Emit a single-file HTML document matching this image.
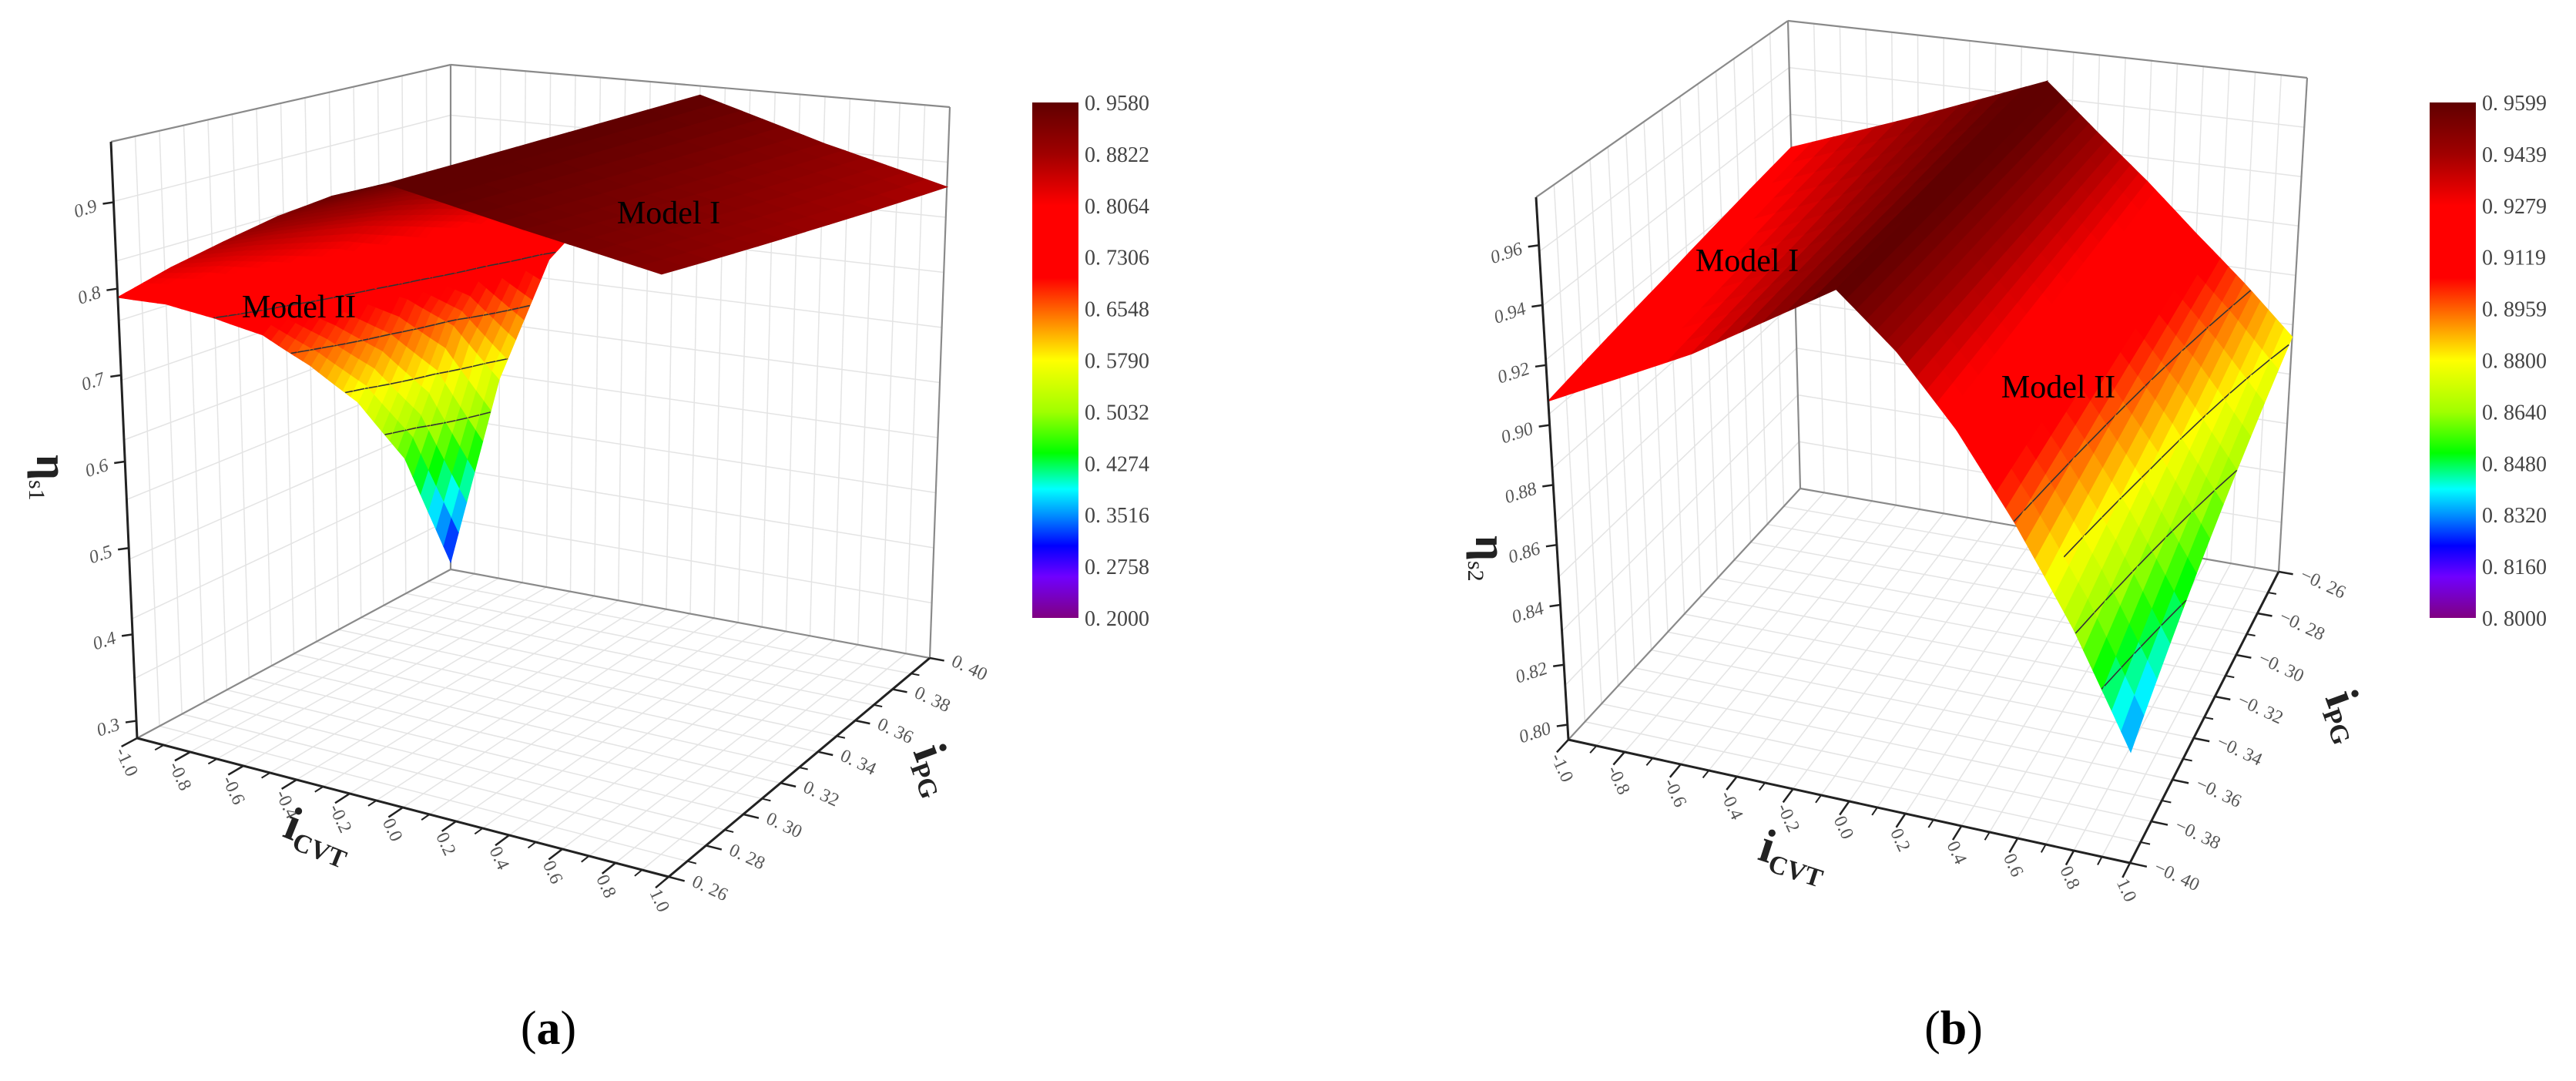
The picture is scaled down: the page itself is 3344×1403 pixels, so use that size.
<!DOCTYPE html>
<html><head><meta charset="utf-8"><style>
html,body{margin:0;padding:0;background:#fff;}
svg{display:block;font-family:"Liberation Serif",serif;}
</style></head><body>
<svg id="fig" width="3344" height="1403" viewBox="0 0 3344 1403" xmlns="http://www.w3.org/2000/svg">
<defs>
<linearGradient id="cmap" x1="0" y1="1" x2="0" y2="0">
<stop offset="0" stop-color="#800080"/><stop offset="0.08" stop-color="#7000ff"/><stop offset="0.14" stop-color="#0000ff"/><stop offset="0.2" stop-color="#0090ff"/><stop offset="0.25" stop-color="#00ffff"/><stop offset="0.32" stop-color="#00ff00"/><stop offset="0.4" stop-color="#a0ff00"/><stop offset="0.5" stop-color="#ffff00"/><stop offset="0.54" stop-color="#ffc000"/><stop offset="0.6" stop-color="#ff6000"/><stop offset="0.66" stop-color="#ff0000"/><stop offset="0.8" stop-color="#ff0000"/><stop offset="0.9" stop-color="#a00000"/><stop offset="1" stop-color="#600000"/>
</linearGradient>
</defs>
<g id="pa"></g>
<g id="pb"></g>
<text x="712" y="1355" font-size="62" text-anchor="middle">(<tspan font-weight="bold">a</tspan>)</text>
<text x="2536" y="1355" font-size="62" text-anchor="middle">(<tspan font-weight="bold">b</tspan>)</text>
</svg>
<script>
// ---------- data: panel (a) ----------
const aXTicks=[-1,-0.8,-0.6,-0.4,-0.2,0,0.2,0.4,0.6,0.8,1];
const aXLabels=["-1.0","-0.8","-0.6","-0.4","-0.2","0.0","0.2","0.4","0.6","0.8","1.0"];
const aYTicks=[0.26,0.28,0.30,0.32,0.34,0.36,0.38,0.40];
const aYLabels=["0. 26","0. 28","0. 30","0. 32","0. 34","0. 36","0. 38","0. 40"];
const aZTicks=[0.3,0.4,0.5,0.6,0.7,0.8,0.9];
const aZLabels=["0.3","0.4","0.5","0.6","0.7","0.8","0.9"];
const aCbLabels=["0. 9580","0. 8822","0. 8064","0. 7306","0. 6548","0. 5790","0. 5032","0. 4274","0. 3516","0. 2758","0. 2000"];
const aContours=[0.7306,0.6548,0.5790,0.5032];
const aM2x=[-1,-0.8,-0.6,-0.4,-0.2,0];
const aM2y=[0.26,0.28,0.30,0.32,0.34,0.36,0.38,0.40];
const aM2z=[
[0.790,0.765,0.730,0.690,0.630,0.560,0.460,0.290],
[0.835,0.821,0.801,0.778,0.744,0.704,0.647,0.550],
[0.875,0.867,0.856,0.844,0.825,0.804,0.773,0.720],
[0.913,0.907,0.899,0.890,0.877,0.861,0.838,0.800],
[0.945,0.940,0.934,0.926,0.915,0.901,0.882,0.850],
[0.968,0.964,0.957,0.950,0.940,0.928,0.910,0.880]];
const aM1x=[0,0.5,1];
const aM1y=[0.26,0.33,0.40];
const aM1z=[[0.968,0.963,0.958],[0.940,0.925,0.910],[0.915,0.893,0.870]];
// ---------- data: panel (b) ----------
const bXTicks=[-1,-0.8,-0.6,-0.4,-0.2,0,0.2,0.4,0.6,0.8,1];
const bXLabels=["-1.0","-0.8","-0.6","-0.4","-0.2","0.0","0.2","0.4","0.6","0.8","1.0"];
const bYTicks=[-0.40,-0.38,-0.36,-0.34,-0.32,-0.30,-0.28,-0.26];
const bYLabels=["\u22120. 40","\u22120. 38","\u22120. 36","\u22120. 34","\u22120. 32","\u22120. 30","\u22120. 28","\u22120. 26"];
const bZTicks=[0.80,0.82,0.84,0.86,0.88,0.90,0.92,0.94,0.96];
const bZLabels=["0.80","0.82","0.84","0.86","0.88","0.90","0.92","0.94","0.96"];
const bCbLabels=["0. 9599","0. 9439","0. 9279","0. 9119","0. 8959","0. 8800","0. 8640","0. 8480","0. 8320","0. 8160","0. 8000"];
const bContours=[0.8959,0.8800,0.8640,0.8480];
const bM1x=[-1,-0.5,0];
const bM1y=[-0.40,-0.33,-0.26];
const bM1z=[[0.908,0.917,0.927],[0.932,0.938,0.945],[0.961,0.962,0.964]];
const bM2x=[0,0.2,0.4,0.6,0.8,1];
const bM2y=[-0.40,-0.33,-0.26];
const bM2z=[[0.961,0.9625,0.964],[0.944,0.9455,0.947],[0.922,0.9265,0.931],[0.895,0.9045,0.914],[0.865,0.8815,0.898],[0.830,0.8555,0.881]];

const NS="http://www.w3.org/2000/svg";
const STOPS=[[0,[128,0,128]],[0.08,[112,0,255]],[0.14,[0,0,255]],[0.2,[0,144,255]],[0.25,[0,255,255]],[0.32,[0,255,0]],[0.4,[160,255,0]],[0.5,[255,255,0]],[0.54,[255,192,0]],[0.6,[255,96,0]],[0.66,[255,0,0]],[0.8,[255,0,0]],[0.9,[160,0,0]],[1,[96,0,0]]];
function cmap(t){t=Math.max(0,Math.min(1,t));for(let i=1;i<STOPS.length;i++){if(t<=STOPS[i][0]){const a=STOPS[i-1],b=STOPS[i];const f=(t-a[0])/(b[0]-a[0]);const c=a[1].map((v,k)=>Math.round(v+(b[1][k]-v)*f));return `rgb(${c[0]},${c[1]},${c[2]})`;}}return "rgb(96,0,0)";}
function mk(parent,tag,attrs){const e=document.createElementNS(NS,tag);for(const k in attrs)e.setAttribute(k,attrs[k]);parent.appendChild(e);return e;}

function makeProj(P){
  return function(x,y,z){
    const u=(x-P.x0)/(P.x1-P.x0),v=(y-P.y0)/(P.y1-P.y0),w=(z-P.z0)/(P.z1-P.z0);
    const c=[(1-u)*(1-v),u*(1-v),u*v,(1-u)*v];
    const C=[P.L,P.F,P.R,P.B],V=[P.vL,P.vF,P.vR,P.vB];
    let X=0,Y=0;for(let i=0;i<4;i++){X+=c[i]*(C[i][0]+w*V[i][0]);Y+=c[i]*(C[i][1]+w*V[i][1]);}
    return [X,Y];
  };
}
function pl(pts){return pts.map(p=>p[0].toFixed(1)+","+p[1].toFixed(1)).join(" ");}

function drawPanel(g,P,D){
  const pr=makeProj(P);
  // walls grid
  const grid=mk(g,"g",{});
  
  
  const gl=(a,b)=>{mk(grid,"line",{x1:a[0],y1:a[1],x2:b[0],y2:b[1],stroke:"#e4e4e4","stroke-width":1.5});};
  const xs=[],ys=[],zs=[];
  for(let i=0;i<=20;i++)xs.push(P.x0+(P.x1-P.x0)*i/20);
  for(let i=0;i<=14;i++)ys.push(P.y0+(P.y1-P.y0)*i/14);
  for(let i=0;i<=10;i++)zs.push(P.z0+(P.z1-P.z0)*i/10);
  xs.forEach(x=>{gl(pr(x,P.y0,P.z0),pr(x,P.y1,P.z0));gl(pr(x,P.y1,P.z0),pr(x,P.y1,P.z1));});
  ys.forEach(y=>{gl(pr(P.x0,y,P.z0),pr(P.x1,y,P.z0));gl(pr(P.x0,y,P.z0),pr(P.x0,y,P.z1));});
  zs.forEach(z=>{gl(pr(P.x0,P.y0,z),pr(P.x0,P.y1,z));gl(pr(P.x0,P.y1,z),pr(P.x1,P.y1,z));});
  // box edges
  const box=mk(g,"g",{stroke:"#8a8a8a","stroke-width":2.2,fill:"none"});
  
  
  const bl=(a,b)=>mk(box,"line",{x1:a[0],y1:a[1],x2:b[0],y2:b[1]});
  bl(pr(P.x0,P.y1,P.z0),pr(P.x0,P.y1,P.z1));
  bl(pr(P.x1,P.y1,P.z0),pr(P.x1,P.y1,P.z1));
  bl(pr(P.x0,P.y0,P.z1),pr(P.x0,P.y1,P.z1));
  bl(pr(P.x0,P.y1,P.z1),pr(P.x1,P.y1,P.z1));
  bl(pr(P.x0,P.y0,P.z0),pr(P.x0,P.y1,P.z0));
  bl(pr(P.x0,P.y1,P.z0),pr(P.x1,P.y1,P.z0));
  // surfaces
  const surf=mk(g,"g",{});
  
  
  const quads=[];const N=6;
  D.models.forEach(M=>{
    for(let i=0;i<M.x.length-1;i++)for(let j=0;j<M.y.length-1;j++){
      for(let a=0;a<N;a++)for(let b=0;b<N;b++){
        const s0=a/N,s1=(a+1)/N,t0=b/N,t1=(b+1)/N;
        const pt=(s,t)=>{const x=M.x[i]+(M.x[i+1]-M.x[i])*s,y=M.y[j]+(M.y[j+1]-M.y[j])*t;
          const z=(1-s)*(1-t)*M.z[i][j]+s*(1-t)*M.z[i+1][j]+s*t*M.z[i+1][j+1]+(1-s)*t*M.z[i][j+1];return [x,y,z];};
        const c=[pt(s0,t0),pt(s1,t0),pt(s1,t1),pt(s0,t1)];
        const cx=(c[0][0]+c[2][0])/2,cy=(c[0][1]+c[2][1])/2;
        const u=(cx-P.x0)/(P.x1-P.x0),v=(cy-P.y0)/(P.y1-P.y0);
        quads.push({c,depth:(1-u)+v});
      }
    }
  });
  quads.sort((p,q)=>q.depth-p.depth);
  quads.forEach(Q=>{
    const zav=(Q.c[0][2]+Q.c[1][2]+Q.c[2][2]+Q.c[3][2])/4;
    const col=cmap((zav-D.cmin)/(D.cmax-D.cmin));
    const pts=Q.c.map(p=>pr(p[0],p[1],p[2]));
    const q=mk(surf,"polygon",{points:pl(pts),fill:col,stroke:col,"stroke-width":1.2});
    
    
    // contours on two triangles
    [[0,1,2],[0,2,3]].forEach(tr=>{
      D.contours.forEach(lv=>{
        const seg=[];
        for(let k=0;k<3;k++){const A=Q.c[tr[k]],B=Q.c[tr[(k+1)%3]];
          if((A[2]-lv)*(B[2]-lv)<0){const f=(lv-A[2])/(B[2]-A[2]);seg.push(pr(A[0]+(B[0]-A[0])*f,A[1]+(B[1]-A[1])*f,lv));}}
        if(seg.length===2){const l=mk(surf,"line",{x1:seg[0][0],y1:seg[0][1],x2:seg[1][0],y2:seg[1][1],stroke:"#333","stroke-width":1.6});
          
          }
      });
    });
  });
  // axes
  const ax=mk(g,"g",{stroke:"#222","stroke-width":3,fill:"none"});
  
  
  const al=(a,b,w)=>mk(ax,"line",{x1:a[0],y1:a[1],x2:b[0],y2:b[1],"stroke-width":w||3});
  al(pr(P.x0,P.y0,P.z0),pr(P.x1,P.y0,P.z0));
  al(pr(P.x1,P.y0,P.z0),pr(P.x1,P.y1,P.z0));
  al(pr(P.x0,P.y0,P.z0),pr(P.x0,P.y0,P.z1));
  const lab=mk(g,"g",{fill:"#555","font-size":D.tickFont});
  
  
  // x ticks
  const yOut=P.y0-(P.y1-P.y0)*0.05, yOutS=P.y0-(P.y1-P.y0)*0.028;
  D.xTicks.forEach((x,i)=>{
    const a=pr(x,P.y0,P.z0),b=pr(x,yOut,P.z0);al(a,b,2.5);
    if(i<D.xTicks.length-1){const xm=(x+D.xTicks[i+1])/2;al(pr(xm,P.y0,P.z0),pr(xm,yOutS,P.z0),2);}
    const t=mk(lab,"text",{x:b[0]+D.xl[0],y:b[1]+D.xl[1],transform:`rotate(${D.xl[2]} ${b[0]+D.xl[0]} ${b[1]+D.xl[1]})`});
    t.textContent=D.xLabels[i];
    
    
  });
  const xOut=P.x1+(P.x1-P.x0)*0.03, xOutS=P.x1+(P.x1-P.x0)*0.017;
  D.yTicks.forEach((y,i)=>{
    const a=pr(P.x1,y,P.z0),b=pr(xOut,y,P.z0);al(a,b,2.5);
    if(i<D.yTicks.length-1){const ym=(y+D.yTicks[i+1])/2;al(pr(P.x1,ym,P.z0),pr(xOutS,ym,P.z0),2);}
    const t=mk(lab,"text",{x:b[0]+D.yl[0],y:b[1]+D.yl[1],transform:`rotate(${D.yl[2]} ${b[0]+D.yl[0]} ${b[1]+D.yl[1]})`});
    t.textContent=D.yLabels[i];
    
    
  });
  D.zTicks.forEach((z,i)=>{
    const a=pr(P.x0,P.y0,z);const b=[a[0]-14,a[1]+2];al(a,b,2.5);
    const t=mk(lab,"text",{x:b[0]-6,y:b[1]+9,"text-anchor":"end","font-style":"italic",transform:`rotate(-18 ${b[0]-6} ${b[1]+9})`});
    t.textContent=D.zLabels[i];
    
    
  });
  // colorbar
  const cb=mk(g,"rect",{x:D.cb[0],y:D.cb[1],width:D.cb[2],height:D.cb[3],fill:"url(#cmap)"});
  
  
  D.cbLabels.forEach((s,i)=>{
    const t=mk(g,"text",{x:D.cb[0]+D.cb[2]+8,y:D.cb[1]+i*D.cb[3]/10+10,"font-size":28,fill:"#444"});
    t.textContent=s;
    
    
  });
}

drawPanel(document.getElementById('pa'),
 {x0:-1,x1:1,y0:0.26,y1:0.40,z0:0.28,z1:0.97,
  L:[178,958],F:[868,1138],R:[1207,854],B:[585,739],
  vL:[-34,-774],vF:[-10,-850],vR:[26,-715],vB:[0,-655]},
 {models:[{x:aM2x,y:aM2y,z:aM2z},{x:aM1x,y:aM1y,z:aM1z}],cmin:0.2,cmax:0.958,contours:aContours,
  xTicks:aXTicks,xLabels:aXLabels,yTicks:aYTicks,yLabels:aYLabels,zTicks:aZTicks,zLabels:aZLabels,
  cbLabels:aCbLabels,cb:[1340,133,60,669],tickFont:24,xl:[-8,6,65],yl:[8,6,25]});
drawPanel(document.getElementById('pb'),
 {x0:-1,x1:1,y0:-0.40,y1:-0.26,z0:0.795,z1:0.976,
  L:[2036,960],F:[2765,1120],R:[2958,742],B:[2337,634],
  vL:[-42,-704],vF:[5,-745],vR:[37,-641],vB:[-16,-607]},
 {models:[{x:bM1x,y:bM1y,z:bM1z},{x:bM2x,y:bM2y,z:bM2z}],cmin:0.8,cmax:0.9599,contours:bContours,
  xTicks:bXTicks,xLabels:bXLabels,yTicks:bYTicks,yLabels:bYLabels,zTicks:bZTicks,zLabels:bZLabels,
  cbLabels:bCbLabels,cb:[3154,133,60,669],tickFont:24,xl:[-8,6,65],yl:[8,6,25]});

// titles & model labels
const fig=document.getElementById('fig');
function txt(name,x,y,html,attrs){const t=mk(fig,"text",Object.assign({x:x,y:y},attrs||{}));t.innerHTML=html;
  
  return t;}
txt('model-i-label-a',868,290,'Model I',{"font-size":42,"text-anchor":"middle"});
txt('model-ii-label-a',388,412,'Model II',{"font-size":42,"text-anchor":"middle"});
txt('model-i-label-b',2268,352,'Model I',{"font-size":42,"text-anchor":"middle"});
txt('model-ii-label-b',2672,516,'Model II',{"font-size":42,"text-anchor":"middle"});
txt('x-axis-title-a',365,1085,'<tspan font-size="62" font-weight="bold">i</tspan><tspan font-size="34" font-weight="bold" dy="10">CVT</tspan>',{transform:"rotate(22 365 1085)",fill:"#222"});
txt('y-axis-title-a',1185,975,'<tspan font-size="62" font-weight="bold">i</tspan><tspan font-size="34" font-weight="bold" dy="10">PG</tspan>',{transform:"rotate(70 1185 975)",fill:"#222"});
txt('z-axis-title-a',48,590,'<tspan font-size="58" font-weight="bold">η</tspan><tspan font-size="30" dy="10">s1</tspan>',{transform:"rotate(90 48 590)",fill:"#222"});
txt('x-axis-title-b',2280,1115,'<tspan font-size="62" font-weight="bold">i</tspan><tspan font-size="34" font-weight="bold" dy="10">CVT</tspan>',{transform:"rotate(18 2280 1115)",fill:"#222"});
txt('y-axis-title-b',3018,905,'<tspan font-size="62" font-weight="bold">i</tspan><tspan font-size="34" font-weight="bold" dy="10">PG</tspan>',{transform:"rotate(70 3018 905)",fill:"#222"});
txt('z-axis-title-b',1916,695,'<tspan font-size="58" font-weight="bold">η</tspan><tspan font-size="30" dy="10">s2</tspan>',{transform:"rotate(90 1916 695)",fill:"#222"});
</script>
</body></html>
